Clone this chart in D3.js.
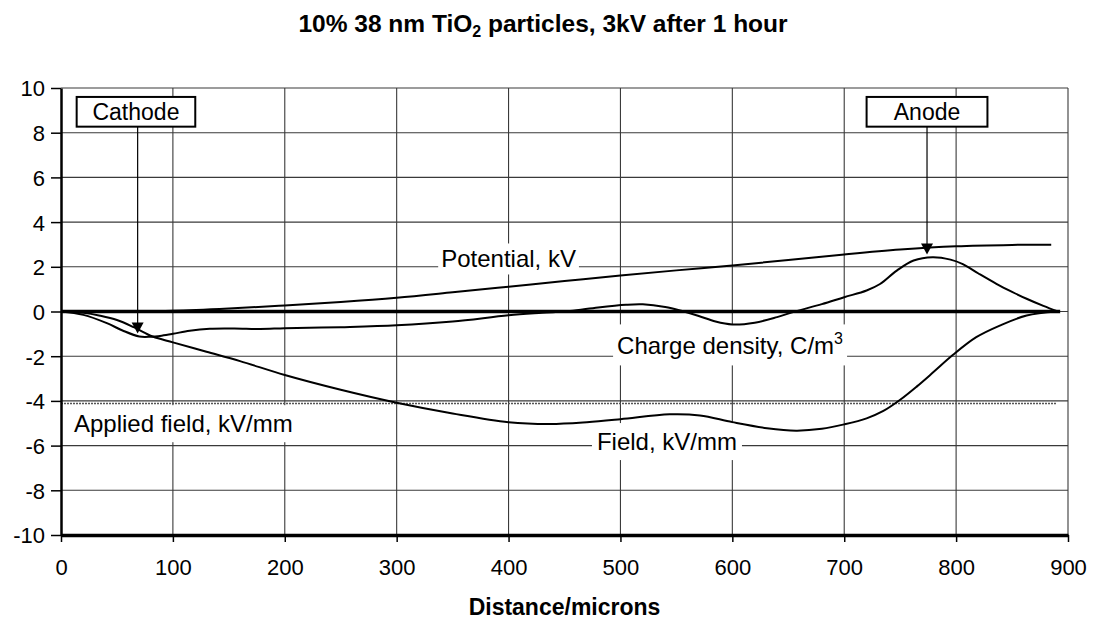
<!DOCTYPE html>
<html>
<head>
<meta charset="utf-8">
<script src="https://cdn.jsdelivr.net/npm/d3@7"></script>
<style>
  body { margin: 0; background: #fff; }
  svg { display: block; }
  text { font-family: Arial, "Liberation Sans", sans-serif; fill: #000; }
</style>
</head>
<body>
<svg id="chart" width="1094" height="622"></svg>
<script>
// Distance across the cell, microns, and the measured profiles
const potentialDist = [0, 50, 100, 150, 200, 250, 300, 350, 400, 450, 500, 550, 600, 650, 700, 750, 800, 850, 885];
const potentialKV   = [0, 0.01, 0.03, 0.13, 0.27, 0.43, 0.62, 0.86, 1.11, 1.36, 1.61, 1.84, 2.06, 2.3, 2.55, 2.77, 2.92, 2.98, 2.99];

const fieldDist = [0, 20, 35, 50, 65, 82, 100, 130, 160, 200, 250, 300, 350, 400, 437, 470, 500, 544, 571, 600, 631, 657, 680, 700, 720, 735, 750, 765, 780, 797, 818, 839, 863, 890];
const fieldKVmm = [0, -0.06, -0.19, -0.38, -0.7, -1.12, -1.38, -1.8, -2.22, -2.84, -3.5, -4.08, -4.56, -4.95, -5.03, -4.95, -4.82, -4.6, -4.65, -4.95, -5.22, -5.33, -5.25, -5.05, -4.78, -4.45, -3.95, -3.35, -2.7, -1.95, -1.15, -0.63, -0.18, 0];

const chargeDist    = [0, 20, 41, 55, 70, 80, 90, 100, 115, 133, 155, 178, 200, 250, 300, 350, 400, 430, 455, 480, 505, 520, 540, 555, 570, 585, 600, 620, 640, 656, 680, 700, 720, 732, 747, 762, 779, 795, 806, 820, 836, 850, 863, 878, 891];
const chargeDensity = [0, -0.15, -0.52, -0.85, -1.12, -1.13, -1.08, -1.0, -0.86, -0.77, -0.76, -0.78, -0.75, -0.7, -0.62, -0.45, -0.17, -0.06, 0.02, 0.18, 0.3, 0.32, 0.2, 0.02, -0.2, -0.45, -0.58, -0.5, -0.25, 0, 0.33, 0.64, 0.94, 1.23, 1.83, 2.28, 2.43, 2.32, 2.12, 1.7, 1.24, 0.88, 0.57, 0.25, 0];

const appliedFieldDist = [0, 890];
const appliedFieldKVmm = [-4.12, -4.12];

const zeroDist  = [0, 893];
const zeroValue = [0, 0];

const xTicks = [0, 100, 200, 300, 400, 500, 600, 700, 800, 900];
const yTicks = [-10, -8, -6, -4, -2, 0, 2, 4, 6, 8, 10];

const svg = d3.select("#chart");
const x = d3.scaleLinear().domain([0, 900]).range([61, 1068]);
const y = d3.scaleLinear().domain([-10, 10]).range([535, 88]);

const pts = (xs, ys) => xs.map((d, i) => [d, ys[i]]);
const line = d3.line().x(d => x(d[0])).y(d => y(d[1])).curve(d3.curveCatmullRom.alpha(0.5));
const straight = d3.line().x(d => x(d[0])).y(d => y(d[1]));

// Title
const title = svg.append("text")
  .attr("x", 543).attr("y", 32)
  .attr("text-anchor", "middle")
  .style("font-size", "24.5px").style("font-weight", "bold");
title.append("tspan").text("10% 38 nm TiO");
title.append("tspan").attr("dy", 5).style("font-size", "16px").text("2");
title.append("tspan").attr("dy", -5).text(" particles, 3kV after 1 hour");

// Gridlines
const grid = svg.append("g").attr("stroke", "#3a3a3a").attr("stroke-width", 1.1);
grid.selectAll("line.gv").data(xTicks.filter(d => d > 0)).join("line")
  .attr("class", "gv")
  .attr("x1", d => x(d)).attr("x2", d => x(d))
  .attr("y1", y(-10)).attr("y2", y(10));
grid.selectAll("line.gh").data(yTicks.filter(d => d > -10)).join("line")
  .attr("class", "gh")
  .attr("x1", x(0)).attr("x2", x(900))
  .attr("y1", d => y(d)).attr("y2", d => y(d));

// White panels behind the series labels
const labelBg = svg.append("g");

// Reference lines
svg.append("path").datum(pts(appliedFieldDist, appliedFieldKVmm))
  .attr("d", straight).attr("fill", "none")
  .attr("stroke", "#555").attr("stroke-width", 1.5).attr("stroke-dasharray", "2,1");
svg.append("path").datum(pts(zeroDist, zeroValue))
  .attr("d", straight).attr("fill", "none")
  .attr("stroke", "#000").attr("stroke-width", 3.5);

// Profiles
[[potentialDist, potentialKV], [fieldDist, fieldKVmm], [chargeDist, chargeDensity]].forEach(([xs, ys]) => {
  svg.append("path").datum(pts(xs, ys))
    .attr("d", line).attr("fill", "none")
    .attr("stroke", "#000").attr("stroke-width", 2)
    .attr("stroke-linejoin", "round");
});

// Series labels
const seriesLabels = [
  { text: "Potential, kV", x: 400, y: 1.97, anchor: "middle", pad: [3, 2] },
  { text: "Charge density, C/m", sup: "3", x: 497, y: -1.92, anchor: "start", pad: [4, 6] },
  { text: "Field, kV/mm", x: 479, y: -6.2, anchor: "start", pad: [5, 5] },
  { text: "Applied field, kV/mm", x: 11.6, y: -5.4, anchor: "start", pad: [5, 5] }
];
const labelG = svg.append("g");
seriesLabels.forEach(l => {
  const t = labelG.append("text")
    .attr("x", x(l.x)).attr("y", y(l.y))
    .attr("text-anchor", l.anchor)
    .style("font-size", "24px");
  t.append("tspan").text(l.text);
  if (l.sup) t.append("tspan").attr("dy", -10).style("font-size", "16px").text(l.sup);
  const b = t.node().getBBox();
  labelBg.append("rect")
    .attr("x", b.x - l.pad[0]).attr("y", b.y - l.pad[1])
    .attr("width", b.width + 2 * l.pad[0]).attr("height", b.height + 2 * l.pad[1])
    .attr("fill", "#fff");
});

// Electrode call-outs
const electrodes = [
  { name: "Cathode", x0: 14, x1: 120, tipX: 68.5, tipY: -0.98 },
  { name: "Anode", x0: 720, x1: 828, tipX: 774, tipY: 2.55 }
];
const boxTop = 9.6, boxBottom = 8.27;
const ann = svg.append("g");
electrodes.forEach(e => {
  const tx = x(e.tipX), ty = y(e.tipY);
  ann.append("line")
    .attr("x1", tx).attr("x2", tx)
    .attr("y1", y(boxBottom)).attr("y2", ty - 10)
    .attr("stroke", "#000").attr("stroke-width", 1.2);
  ann.append("path")
    .attr("d", `M${tx - 6},${ty - 11}L${tx + 6},${ty - 11}L${tx},${ty}Z`)
    .attr("fill", "#000");
  ann.append("rect")
    .attr("x", x(e.x0)).attr("y", y(boxTop))
    .attr("width", x(e.x1) - x(e.x0)).attr("height", y(boxBottom) - y(boxTop))
    .attr("fill", "#fff").attr("stroke", "#000").attr("stroke-width", 2);
  ann.append("text")
    .attr("x", (x(e.x0) + x(e.x1)) / 2).attr("y", (y(boxTop) + y(boxBottom)) / 2 + 8)
    .attr("text-anchor", "middle")
    .style("font-size", "23px").text(e.name);
});

// Axes
const xAxis = svg.append("g").attr("transform", `translate(0,${y(-10)})`)
  .call(d3.axisBottom(x).tickValues(xTicks).tickFormat(d => String(d))
    .tickSize(7).tickSizeOuter(0).tickPadding(33));
const yAxis = svg.append("g").attr("transform", `translate(${x(0)},0)`)
  .call(d3.axisLeft(y).tickValues(yTicks).tickFormat(d => String(d))
    .tickSize(10).tickSizeOuter(0).tickPadding(6));
[xAxis, yAxis].forEach(g => {
  g.selectAll("text").style("font-size", "22px").style("font-family", "Arial, 'Liberation Sans', sans-serif").attr("fill", "#000");
  g.selectAll(".tick line").attr("stroke", "#000").attr("stroke-width", 1.5);
});
xAxis.select(".domain").attr("stroke", "#000").attr("stroke-width", 3.5);
yAxis.select(".domain").attr("stroke", "#000").attr("stroke-width", 2.5);
xAxis.selectAll("text").attr("dy", "0");
yAxis.selectAll("text").attr("dy", "0.36em");

svg.append("text")
  .attr("x", (x(0) + x(900)) / 2).attr("y", 615)
  .attr("text-anchor", "middle")
  .style("font-size", "23px").style("font-weight", "bold")
  .text("Distance/microns");
</script>
</body>
</html>
